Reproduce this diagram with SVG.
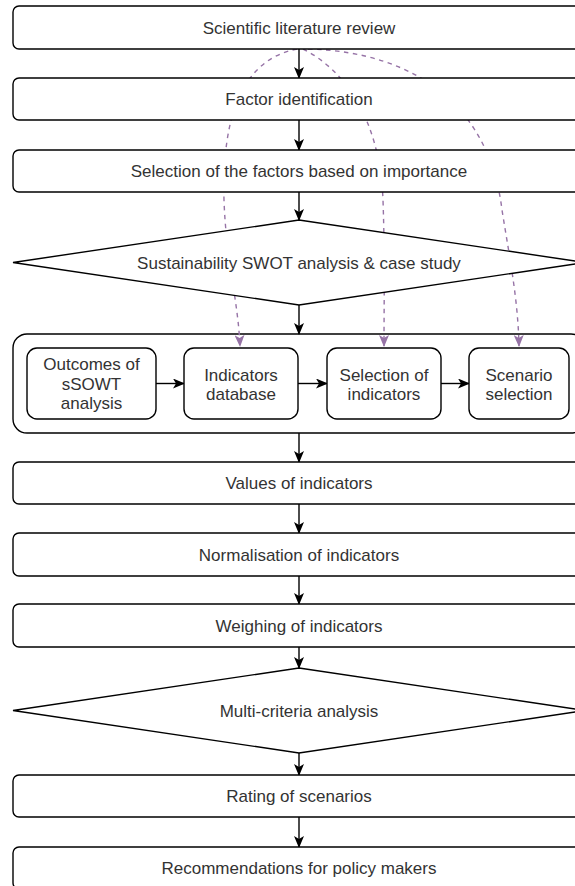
<svg xmlns="http://www.w3.org/2000/svg" width="575" height="886" viewBox="0 0 575 886">
<defs>
<style>
.box{fill:#fff;stroke:#000;stroke-width:1.4}
.t{font-family:"Liberation Sans",Arial,Helvetica,sans-serif;font-size:17px;fill:#333;text-anchor:middle}
.e{fill:none;stroke:#000;stroke-width:1.4}
.d{fill:none;stroke:#9673a6;stroke-width:1.4;stroke-dasharray:4.5 4.5}
</style>
<marker id="ab" markerUnits="userSpaceOnUse" viewBox="0 0 12 10" refX="11" refY="5" markerWidth="12" markerHeight="10" orient="auto">
<path d="M0,0 L12,5 L0,10 L3,5 Z" fill="#000"/>
</marker>
<marker id="ap" markerUnits="userSpaceOnUse" viewBox="0 0 12 10" refX="11" refY="5" markerWidth="12" markerHeight="10" orient="auto">
<path d="M0,0 L12,5 L0,10 L3,5 Z" fill="#9673a6"/>
</marker>
</defs>
<rect width="575" height="886" fill="#fff"/>

<g id="container"><rect class="box" x="13" y="334" width="572" height="99" rx="14"/></g>

<g id="connectors">
<line class="e" x1="299" y1="49" x2="299" y2="78" marker-end="url(#ab)"/>
<line class="e" x1="299" y1="120" x2="299" y2="150" marker-end="url(#ab)"/>
<line class="e" x1="299" y1="192" x2="299" y2="220" marker-end="url(#ab)"/>
<line class="e" x1="299" y1="305" x2="299" y2="334" marker-end="url(#ab)"/>
<line class="e" x1="156" y1="383.5" x2="184" y2="383.5" marker-end="url(#ab)"/>
<line class="e" x1="298" y1="383.5" x2="327" y2="383.5" marker-end="url(#ab)"/>
<line class="e" x1="441" y1="383.5" x2="469" y2="383.5" marker-end="url(#ab)"/>
<line class="e" x1="299" y1="433" x2="299" y2="462" marker-end="url(#ab)"/>
<line class="e" x1="299" y1="504" x2="299" y2="533" marker-end="url(#ab)"/>
<line class="e" x1="299" y1="576" x2="299" y2="604" marker-end="url(#ab)"/>
<line class="e" x1="299" y1="647" x2="299" y2="668" marker-end="url(#ab)"/>
<line class="e" x1="299" y1="753" x2="299" y2="775" marker-end="url(#ab)"/>
<line class="e" x1="299" y1="817" x2="299" y2="847" marker-end="url(#ab)"/>
<path class="d" d="M297,49 C240,60 222,120 224,200 C226,260 238,300 240,346" marker-end="url(#ap)"/>
<path class="d" d="M303,49 C345,70 380,120 383,200 C385,260 384,300 384,346" marker-end="url(#ap)"/>
<path class="d" d="M308,49 C420,52 490,110 502,210 C510,260 518,300 519,346" marker-end="url(#ap)"/>
</g>

<g id="n1"><rect class="box" x="13" y="6" width="572" height="43" rx="6"/><text class="t" x="299" y="33.5">Scientific literature review</text></g>
<g id="n2"><rect class="box" x="13" y="78" width="572" height="42" rx="6"/><text class="t" x="299" y="105">Factor identification</text></g>
<g id="n3"><rect class="box" x="13" y="150" width="572" height="42" rx="6"/><text class="t" x="299" y="177">Selection of the factors based on importance</text></g>
<g id="n4"><polygon class="box" points="299,220 585,262.5 299,305 13,262.5"/><text class="t" x="299" y="269">Sustainability SWOT analysis &amp; case study</text></g>
<g id="n5"><rect class="box" x="27" y="348" width="129" height="71" rx="10"/><text class="t" x="91.5" y="370">Outcomes of</text><text class="t" x="91.5" y="389.5">sSOWT</text><text class="t" x="91.5" y="409">analysis</text></g>
<g id="n6"><rect class="box" x="184" y="348" width="114" height="71" rx="10"/><text class="t" x="241" y="380.5">Indicators</text><text class="t" x="241" y="400">database</text></g>
<g id="n7"><rect class="box" x="327" y="348" width="114" height="71" rx="10"/><text class="t" x="384" y="380.5">Selection of</text><text class="t" x="384" y="400">indicators</text></g>
<g id="n8"><rect class="box" x="469" y="348" width="100" height="71" rx="10"/><text class="t" x="519" y="380.5">Scenario</text><text class="t" x="519" y="400">selection</text></g>
<g id="n9"><rect class="box" x="13" y="462" width="572" height="42" rx="6"/><text class="t" x="299" y="489">Values of indicators</text></g>
<g id="n10"><rect class="box" x="13" y="533" width="572" height="43" rx="6"/><text class="t" x="299" y="560.5">Normalisation of indicators</text></g>
<g id="n11"><rect class="box" x="13" y="604" width="572" height="43" rx="6"/><text class="t" x="299" y="631.5">Weighing of indicators</text></g>
<g id="n12"><polygon class="box" points="299,668 585,710.5 299,753 13,710.5"/><text class="t" x="299" y="717">Multi-criteria analysis</text></g>
<g id="n13"><rect class="box" x="13" y="775" width="572" height="42" rx="6"/><text class="t" x="299" y="802">Rating of scenarios</text></g>
<g id="n14"><rect class="box" x="13" y="847" width="572" height="42" rx="6"/><text class="t" x="299" y="874">Recommendations for policy makers</text></g>
</svg>
